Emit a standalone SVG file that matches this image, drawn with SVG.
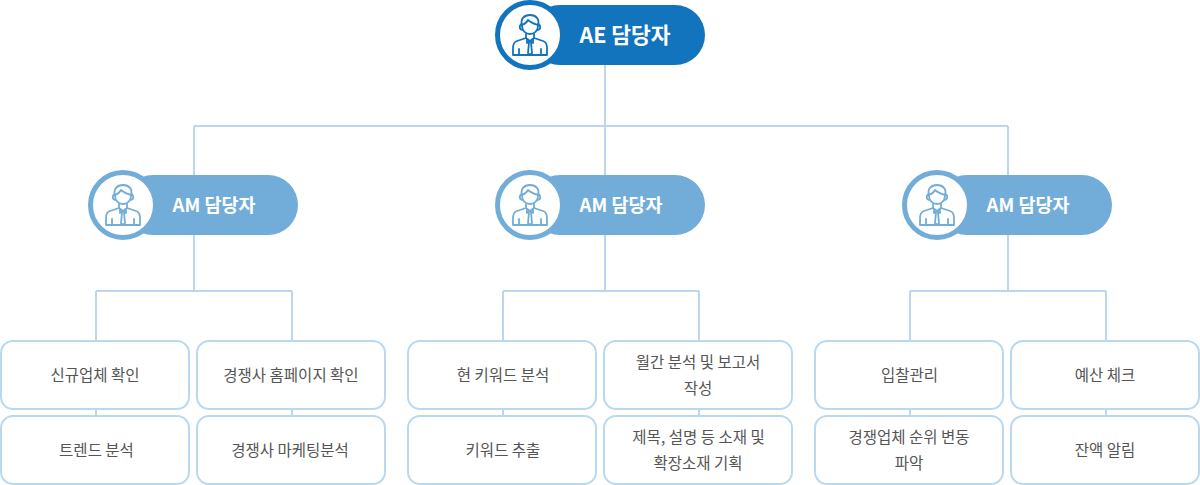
<svg xmlns="http://www.w3.org/2000/svg" width="1200" height="485" viewBox="0 0 1200 485">
<style>
.conn{fill:none;stroke:#b9d8f0;stroke-width:2}
.box{fill:#fff;stroke:#b9d9f1;stroke-width:2}
.t{font-family:"Noto Sans CJK KR","Noto Sans",sans-serif;font-size:15.500px;fill:#555;text-anchor:middle}
.h{font-family:"Noto Sans CJK KR","Noto Sans",sans-serif;font-weight:700;fill:#fff;text-anchor:middle}
.ae{color:#1174bc}
.am{color:#72add9}
.pill{fill:currentColor}
.ring{fill:#fff;stroke:currentColor;stroke-width:5}
.ic{fill:none;stroke:currentColor;stroke-width:1.800;stroke-linejoin:round;stroke-linecap:round}
</style>
<defs>
<g id="person" class="ic">
<path d="M-8-9C-10-16-6-20 0-20C6-20 10-16 8-9C8-4 4-1 0-1C-4-1-8-4-8-9Z"/>
<path d="M-8-10C-5-11-3-13-2-15C1-12 5-11 8-10"/>
<path d="M-8-11C-11-10-11-6-8-5M8-11C11-10 11-6 8-5"/>
<path d="M-4-1V3L0 6L4 3V-1"/>
<path d="M-4 3L-13 6C-16 7-17 10-17 13L-17 20H17L17 13C17 10 16 7 13 6L4 3"/>
<path d="M-3 4V8L0 6L3 8V4M-1 7.500L-2 18L0 20L2 18L1 7.500"/>
<path d="M-11 14V20M11 14V20"/>
</g>
</defs>
<g id="connectors" class="conn">
<path d="M605 65V175M194 126H1008M194 126V175M1008 126V175"/>
<path d="M194 235V291M96 291H292M96 291V341M292 291V341"/>
<path d="M605 235V291M503 291H699M503 291V341M699 291V341"/>
<path d="M1008 235V291M910 291H1106M910 291V341M1106 291V341"/>
<path d="M96 409V416M292 409V416M503 409V416M699 409V416M910 409V416M1106 409V416"/>
</g>
<g id="ae" class="ae">
<rect class="pill" x="530" y="5" width="175" height="60" rx="30"/>
<circle class="ring" cx="530" cy="35" r="32.500"/>
<use href="#person" x="530" y="35"/>
<text class="h" x="625" y="43" font-size="21.500">AE 담당자</text>
</g>
<g id="am1" class="am">
<rect class="pill" x="123" y="175" width="175" height="60" rx="30"/>
<circle class="ring" cx="123" cy="205" r="32.500"/>
<use href="#person" x="123" y="205"/>
<text class="h" x="214" y="212" font-size="18.500">AM 담당자</text>
</g>
<g id="am2" class="am">
<rect class="pill" x="530" y="175" width="175" height="60" rx="30"/>
<circle class="ring" cx="530" cy="205" r="32.500"/>
<use href="#person" x="530" y="205"/>
<text class="h" x="621" y="212" font-size="18.500">AM 담당자</text>
</g>
<g id="am3" class="am">
<rect class="pill" x="937" y="175" width="175" height="60" rx="30"/>
<circle class="ring" cx="937" cy="205" r="32.500"/>
<use href="#person" x="937" y="205"/>
<text class="h" x="1028" y="212" font-size="18.500">AM 담당자</text>
</g>
<g id="n1"><rect class="box" x="1" y="341" width="188" height="68" rx="12"/><text class="t" x="95" y="381">신규업체 확인</text></g>
<g id="n2"><rect class="box" x="197" y="341" width="188" height="68" rx="12"/><text class="t" x="291" y="381">경쟁사 홈페이지 확인</text></g>
<g id="n3"><rect class="box" x="1" y="416" width="188" height="68" rx="12"/><text class="t" x="96.500" y="456">트렌드 분석</text></g>
<g id="n4"><rect class="box" x="197" y="416" width="188" height="68" rx="12"/><text class="t" x="290" y="456">경쟁사 마케팅분석</text></g>
<g id="n5"><rect class="box" x="408" y="341" width="188" height="68" rx="12"/><text class="t" x="503" y="381">현 키워드 분석</text></g>
<g id="n6"><rect class="box" x="604" y="341" width="188" height="68" rx="12"/><text class="t" x="698" y="368">월간 분석 및 보고서</text><text class="t" x="698" y="394">작성</text></g>
<g id="n7"><rect class="box" x="408" y="416" width="188" height="68" rx="12"/><text class="t" x="503" y="456">키워드 추출</text></g>
<g id="n8"><rect class="box" x="604" y="416" width="188" height="68" rx="12"/><text class="t" x="698.500" y="443">제목, 설명 등 소재 및</text><text class="t" x="698" y="469">확장소재 기획</text></g>
<g id="n9"><rect class="box" x="815" y="341" width="188" height="68" rx="12"/><text class="t" x="909.500" y="381">입찰관리</text></g>
<g id="n10"><rect class="box" x="1011" y="341" width="188" height="68" rx="12"/><text class="t" x="1105" y="381">예산 체크</text></g>
<g id="n11"><rect class="box" x="815" y="416" width="188" height="68" rx="12"/><text class="t" x="909" y="443">경쟁업체 순위 변동</text><text class="t" x="909" y="469">파악</text></g>
<g id="n12"><rect class="box" x="1011" y="416" width="188" height="68" rx="12"/><text class="t" x="1105" y="456">잔액 알림</text></g>
</svg>
